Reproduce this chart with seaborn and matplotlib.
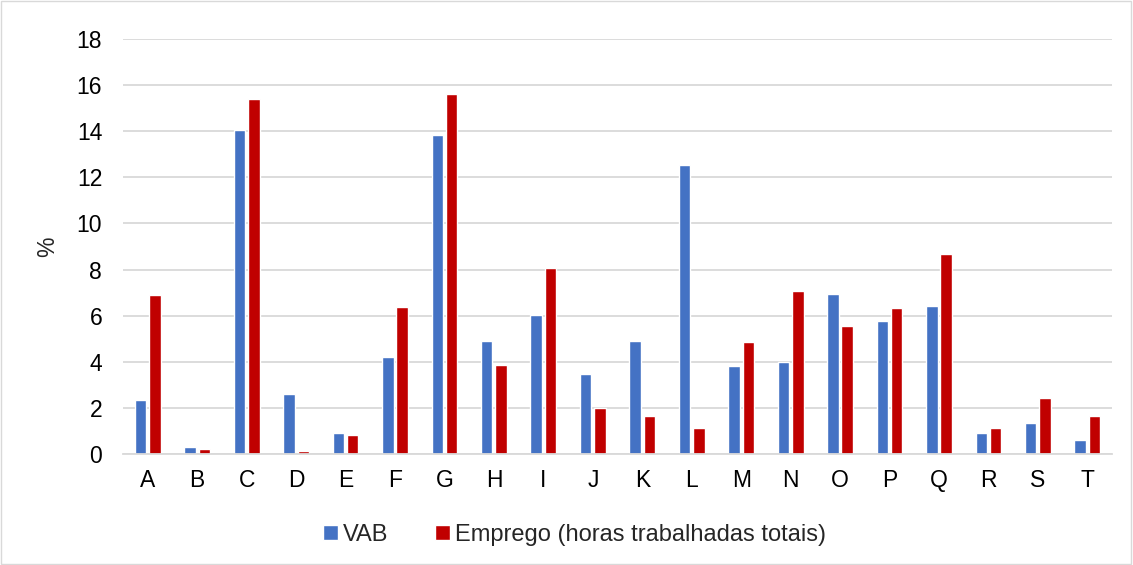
import pandas as pd
import seaborn as sns
import matplotlib.pyplot as plt
from matplotlib.patches import Rectangle, Patch

categories = list("ABCDEFGHIJKLMNOPQRST")
vab = [2.35, 0.32, 14.04, 2.61, 0.93, 4.19, 13.83, 4.88, 6.03, 3.49,
       4.88, 12.52, 3.81, 3.97, 6.94, 5.75, 6.40, 0.91, 1.33, 0.61]
emprego = [6.88, 0.22, 15.40, 0.14, 0.83, 6.36, 15.60, 3.88, 8.06, 1.98,
           1.64, 1.14, 4.84, 7.06, 5.53, 6.32, 8.69, 1.14, 2.43, 1.65]
series = ["VAB", "Emprego (horas trabalhadas totais)"]
colors = ["#4472C4", "#C00000"]

df = pd.DataFrame({
    "setor": categories * 2,
    "valor": vab + emprego,
    "serie": [series[0]] * len(categories) + [series[1]] * len(categories),
})

sns.set_theme(style="white")
plt.rcParams['font.family'] = ['Liberation Sans', 'DejaVu Sans']

fig = plt.figure(figsize=(11.33, 5.65), dpi=100)
ax = fig.add_axes([0.1086, 0.1965, 0.8729, 0.7345])

sns.barplot(data=df, x="setor", y="valor", hue="serie", order=categories,
            hue_order=series, palette=colors, width=0.58, gap=0.2,
            saturation=1, ax=ax, legend=False)

ax.set_ylim(0, 18)
ax.set_yticks(range(0, 19, 2))
ax.set_xlim(-0.5, len(categories) - 0.5)
ax.yaxis.grid(True, color="#D9D9D9", linewidth=1.3)
ax.set_axisbelow(True)
for s in ["left", "right", "top"]:
    ax.spines[s].set_visible(False)
ax.spines["bottom"].set_color("#D9D9D9")
ax.spines["bottom"].set_linewidth(1.3)
ax.tick_params(axis="both", length=0, labelsize=16.5, colors="#000000")
ax.tick_params(axis="y", pad=15)
ax.tick_params(axis="x", pad=11)
ax.set_xlabel("")
ax.set_ylabel("%", fontsize=16.5, labelpad=13)

handles = [Patch(facecolor=c, label=l) for c, l in zip(colors, series)]
fig.legend(handles=handles, loc="center", bbox_to_anchor=(0.507, 0.053),
           ncol=2, frameon=False, fontsize=17, handlelength=0.62,
           handleheight=0.62, handletextpad=0.2, columnspacing=2.0)

fig.patches.append(Rectangle((0.001, 0.002), 0.997, 0.996, transform=fig.transFigure,
                             fill=False, edgecolor="#D9D9D9", linewidth=1))

fig.savefig("out.png", dpi=100)
